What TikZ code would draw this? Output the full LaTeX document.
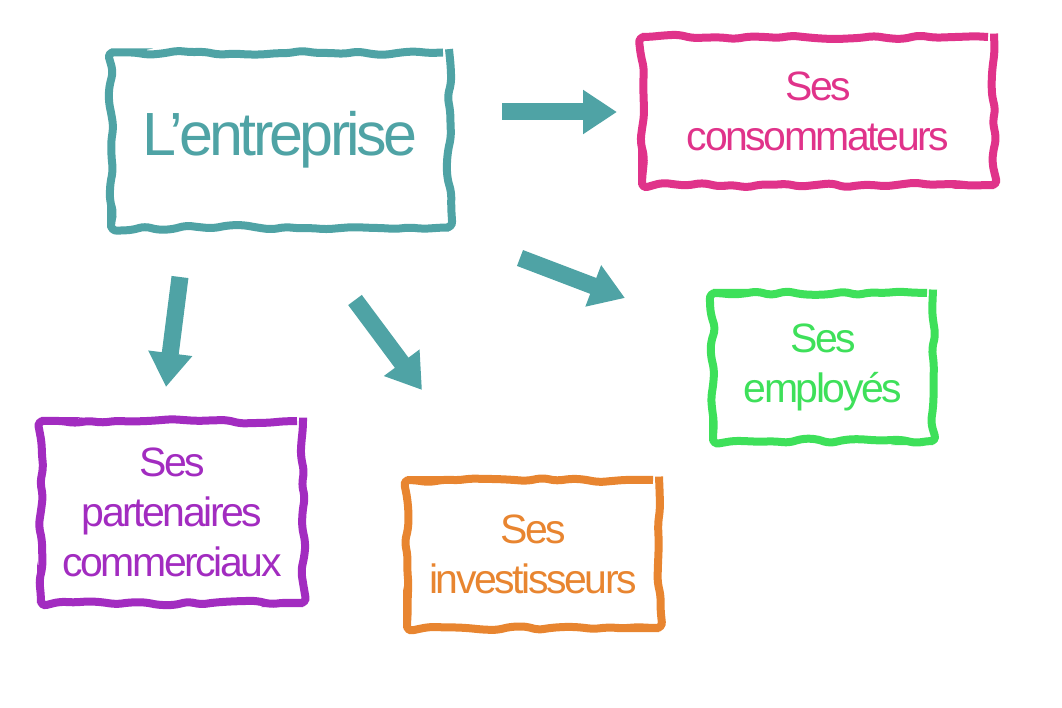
\documentclass[tikz,border=0pt]{standalone}
\usepackage{fontspec}
\setmainfont{Liberation Sans}[LetterSpace=-6]
\usetikzlibrary{arrows.meta,decorations.pathmorphing}
\definecolor{teal1}{HTML}{4FA3A5}
\definecolor{mag}{HTML}{E0338A}
\definecolor{grn}{HTML}{3EE05A}
\definecolor{pur}{HTML}{A22CC0}
\definecolor{org}{HTML}{E88530}
\begin{document}
\begin{tikzpicture}[x=1pt,y=-1pt,
  frame/.style={draw=#1,line width=8pt,rounded corners=6pt,
    decorate,decoration={random steps,segment length=14pt,amplitude=2.5pt},
    text=#1,align=center,inner sep=0pt},
  txt/.style={font=\fontsize{41}{50}\selectfont},
  bigarrow/.style={draw=teal1,line width=17pt,-{Triangle[width=42pt,length=34pt]}}]
\pgfmathsetseed{7}
\useasboundingbox (0,0) rectangle (1062,708);
\node[frame=teal1,minimum width=338pt,minimum height=175pt,font=\fontsize{61}{66}\selectfont] (e) at (280,140) {L'entreprise};
\node[frame=mag,txt,minimum width=352pt,minimum height=148pt] (c) at (818,111) {Ses\\consommateurs};
\node[frame=grn,txt,minimum width=220pt,minimum height=148pt] (em) at (823,367) {Ses\\employés};
\node[frame=pur,txt,minimum width=262pt,minimum height=182pt] (p) at (172,512) {Ses\\partenaires\\commerciaux};
\node[frame=org,txt,minimum width=252pt,minimum height=148pt] (i) at (533,554) {Ses\\investisseurs};
\coordinate (a1s) at (502,112); \coordinate (a1e) at (617,112);
\coordinate (a2s) at (520,258); \coordinate (a2e) at (625,298);
\coordinate (a3s) at (180,277); \coordinate (a3e) at (166,387);
\coordinate (a4s) at (355,300); \coordinate (a4e) at (422,390);
\draw[bigarrow] (a1s) -- (a1e);
\draw[bigarrow] (a2s) -- (a2e);
\draw[bigarrow] (a3s) -- (a3e);
\draw[bigarrow] (a4s) -- (a4e);
\end{tikzpicture}
\end{document}
